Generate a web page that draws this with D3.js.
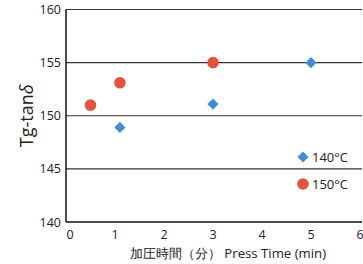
<!DOCTYPE html>
<html>
<head>
<meta charset="utf-8">
<script src="https://cdn.jsdelivr.net/npm/d3@7"></script>
<style>
body { margin: 0; background: #fff; }
text { font-family: "Open Sans", "Noto Sans", sans-serif; fill: #222; }
</style>
</head>
<body>
<div id="chart"></div>
<script>
var xTicks = [0, 1, 2, 3, 4, 5, 6];
var yTicks = [140, 145, 150, 155, 160];
var series140 = [[1.1, 148.9], [3.0, 151.1], [5.0, 155.0]];
var series150 = [[0.5, 151.0], [1.1, 153.1], [3.0, 155.0]];
var legendLabels = ["140\u00b0C", "150\u00b0C"];

var width = 363, height = 264;
var margin = { left: 66, right: 2, top: 9.5, bottom: 42 };

var svg = d3.select("#chart").append("svg")
	.attr("width", width)
	.attr("height", height);

var x = d3.scaleLinear().domain([0, 6]).range([margin.left, 360]);
var y = d3.scaleLinear().domain([140, 160]).range([height - margin.bottom, margin.top]);

// grid lines
svg.selectAll("line.grid")
	.data(yTicks.filter(function (d) { return d > 140; }))
	.enter().append("line")
	.attr("class", "grid")
	.attr("x1", margin.left).attr("x2", width - 1)
	.attr("y1", function (d) { return y(d); })
	.attr("y2", function (d) { return y(d); })
	.attr("stroke", "#333").attr("stroke-width", 1.2);

// axes
svg.append("line")
	.attr("x1", margin.left).attr("x2", width - 1)
	.attr("y1", y(140)).attr("y2", y(140))
	.attr("stroke", "#111").attr("stroke-width", 1.5);
svg.append("line")
	.attr("x1", margin.left).attr("x2", margin.left)
	.attr("y1", y(160)).attr("y2", y(140))
	.attr("stroke", "#111").attr("stroke-width", 1.5);

svg.selectAll("text.ytick")
	.data(yTicks).enter().append("text")
	.attr("class", "ytick")
	.attr("x", margin.left - 5)
	.attr("y", function (d) { return y(d) + 4.5; })
	.attr("text-anchor", "end")
	.style("font-size", "12.5px")
	.text(function (d) { return d; });

svg.selectAll("text.xtick")
	.data(xTicks).enter().append("text")
	.attr("class", "xtick")
	.attr("x", function (d) { return d == 0 ? x(d) + 4 : x(d); })
	.attr("y", y(140) + 17)
	.attr("text-anchor", "middle")
	.style("font-size", "12.5px")
	.text(function (d) { return d; });

// titles
svg.append("text")
	.attr("transform", "translate(33," + ((y(140) + y(160)) / 2) + ") rotate(-90)")
	.attr("text-anchor", "middle")
	.style("font-size", "18px")
	.html('Tg-tan<tspan font-style="italic">\u03b4</tspan>');

svg.append("text")
	.attr("x", 228).attr("y", 258)
	.attr("text-anchor", "middle")
	.style("font-size", "13.2px")
	.text("\u52a0\u5727\u6642\u9593\uff08\u5206\uff09  Press Time (min)");

var blue = "#3f8fd5", red = "#e2553a";
var diamond = d3.symbol().type(d3.symbolSquare).size(62);

svg.selectAll("path.s140")
	.data(series140).enter().append("path")
	.attr("class", "s140")
	.attr("d", diamond)
	.attr("transform", function (d) { return "translate(" + x(d[0]) + "," + y(d[1]) + ") rotate(45)"; })
	.attr("fill", blue);

svg.selectAll("circle.s150")
	.data(series150).enter().append("circle")
	.attr("class", "s150")
	.attr("cx", function (d) { return x(d[0]); })
	.attr("cy", function (d) { return y(d[1]); })
	.attr("r", 5.8)
	.attr("fill", red);

// legend
svg.append("path").attr("d", diamond)
	.attr("transform", "translate(303,157) rotate(45)").attr("fill", blue);
svg.append("circle").attr("cx", 303).attr("cy", 184).attr("r", 5.8).attr("fill", red);
svg.selectAll("text.leg")
	.data(legendLabels).enter().append("text")
	.attr("class", "leg")
	.attr("x", 312)
	.attr("y", function (d, i) { return 161.5 + i * 27; })
	.style("font-size", "13px")
	.text(function (d) { return d; });
</script>
</body>
</html>
